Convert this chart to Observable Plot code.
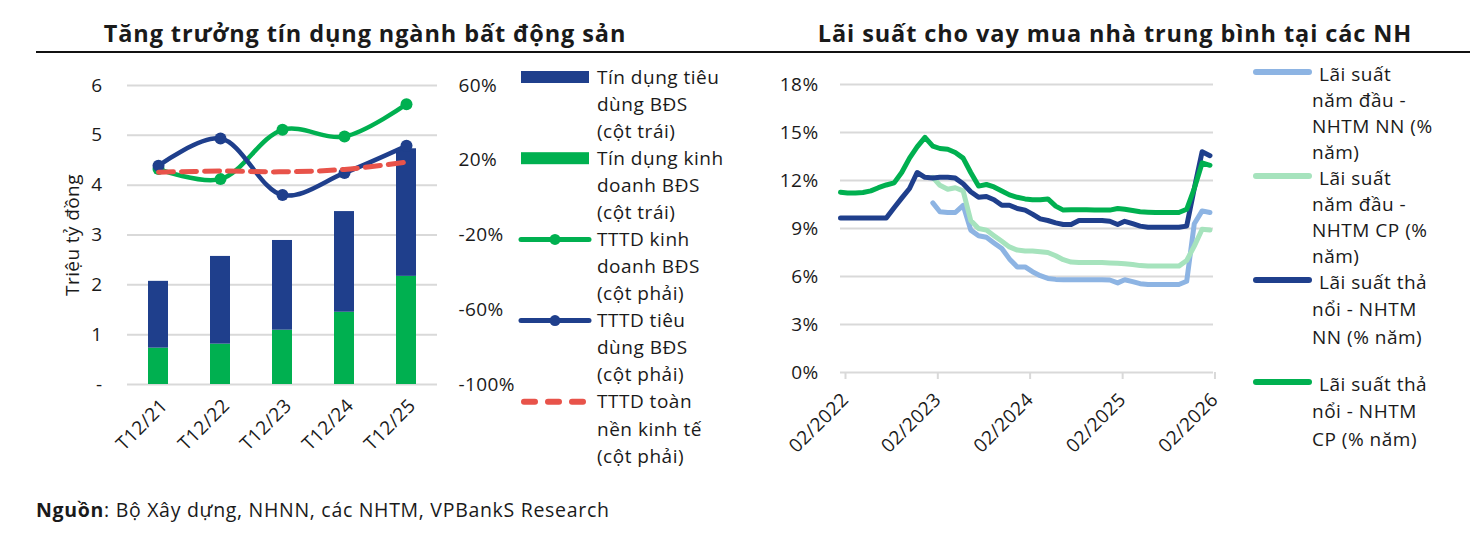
<!DOCTYPE html>
<html><head><meta charset="utf-8">
<script src="https://cdn.jsdelivr.net/npm/d3@7"></script>
<script src="https://cdn.jsdelivr.net/npm/@observablehq/plot@0.6"></script>
<style>
body{margin:0;background:#fff;}
#root{position:relative;width:1470px;height:536px;overflow:hidden;background:#fff;font-family:"Open Sans",Lato,sans-serif;color:#1a1a1a;}
#root > svg, #root > figure{position:absolute;margin:0;}
</style></head><body><div id="root"></div>
<script>
// ---------- Left chart data ----------
const years = ["T12/21","T12/22","T12/23","T12/24","T12/25"];
const creditConsumer = [1.34, 1.76, 1.80, 2.02, 2.56];   // Tín dụng tiêu dùng BĐS (triệu tỷ)
const creditBusiness = [0.73, 0.81, 1.09, 1.45, 2.17];   // Tín dụng kinh doanh BĐS (triệu tỷ)
const growthBusiness = [15.3, 9.9, 36.3, 32.7, 50.0];    // TTTD kinh doanh BĐS (%)
const growthConsumer = [17.1, 31.6, 1.4, 13.2, 27.7];    // TTTD tiêu dùng BĐS (%)
const growthEconomy  = [13.6, 14.2, 13.8, 15.1, 19.0];   // TTTD toàn nền kinh tế (%)
const leftTicks = [0, 1, 2, 3, 4, 5, 6];
const rightTicks = [-100, -60, -20, 20, 60];

// ---------- Right chart data (monthly, 02/2022 – 02/2026) ----------
const rateStart = [2022, 2]; // year, month of first value
const floatCP = [11.27,11.22,11.22,11.25,11.35,11.55,11.72,11.85,12.5,13.4,14.1,14.7,14.15,14.0,13.95,13.75,13.4,12.5,11.65,11.75,11.6,11.35,11.1,10.95,10.85,10.8,10.8,10.85,10.4,10.15,10.17,10.17,10.17,10.15,10.15,10.15,10.25,10.2,10.12,10.05,10.02,10.0,10.0,10.0,10.0,10.2,11.5,13.1,12.95];
const floatNN = [9.65,9.65,9.65,9.65,9.65,9.65,9.65,10.3,10.9,11.5,12.5,12.2,12.15,12.2,12.2,12.15,11.8,11.3,10.95,11.0,10.8,10.45,10.45,10.25,10.15,9.9,9.6,9.5,9.35,9.25,9.25,9.5,9.5,9.5,9.5,9.45,9.25,9.45,9.3,9.15,9.08,9.08,9.08,9.08,9.08,9.15,11.5,13.8,13.55];
const firstNN = [null,null,null,null,null,null,null,null,null,null,null,null,10.6,10.05,10.0,10.0,10.45,8.9,8.55,8.45,8.1,7.75,7.1,6.6,6.6,6.3,6.05,5.88,5.82,5.8,5.8,5.8,5.8,5.8,5.8,5.78,5.6,5.8,5.68,5.55,5.5,5.5,5.5,5.5,5.5,5.7,9.3,10.1,10.0];
const firstCP = [null,null,null,null,null,null,null,null,null,null,null,null,12.2,11.7,11.45,11.55,11.35,9.5,9.0,8.9,8.55,8.2,7.85,7.65,7.6,7.6,7.55,7.5,7.3,7.05,6.9,6.88,6.88,6.88,6.88,6.85,6.83,6.8,6.75,6.68,6.65,6.65,6.65,6.65,6.65,7.0,7.9,8.95,8.9];
const rateTicks = [0, 3, 6, 9, 12, 15, 18];
const yearTicks = ["2022-02","2023-02","2024-02","2025-02","2026-02"];

// ---------- Text ----------
const title1 = "Tăng trưởng tín dụng ngành bất động sản";
const title2 = "Lãi suất cho vay mua nhà trung bình tại các NH";
const leftLegend = [
  {kind:"bar", color:"#1f3f8c", lines:["Tín dụng tiêu","dùng BĐS","(cột trái)"]},
  {kind:"bar", color:"#00b050", lines:["Tín dụng kinh","doanh BĐS","(cột trái)"]},
  {kind:"dotline", color:"#00b050", lines:["TTTD kinh","doanh BĐS","(cột phải)"]},
  {kind:"dotline", color:"#1f3f8c", lines:["TTTD tiêu","dùng BĐS","(cột phải)"]},
  {kind:"dash", color:"#e8534a", lines:["TTTD toàn","nền kinh tế","(cột phải)"]}
];
const rightLegend = [
  {color:"#8db4e3", lines:["Lãi suất","năm đầu -","NHTM NN (%","năm)"]},
  {color:"#a6e3bd", lines:["Lãi suất","năm đầu -","NHTM CP (%","năm)"]},
  {color:"#1f3f8c", lines:["Lãi suất thả","nổi - NHTM","NN (% năm)"]},
  {color:"#00b050", lines:["Lãi suất thả","nổi - NHTM","CP (% năm)"]}
];
const sourceBold = "Nguồn";
const sourceText = ": Bộ Xây dựng, NHNN, các NHTM, VPBankS Research";

const C = {blue:"#1f3f8c", green:"#00b050", red:"#e8534a", lblue:"#8db4e3", lgreen:"#a6e3bd", grid:"#d9d9d9", text:"#1a1a1a"};
const FONT = "'Open Sans', Lato, sans-serif";
const root = document.getElementById("root");

// ---------- Left chart ----------
const toLeft = p => (p + 100) / 160 * 6;
const barData = years.flatMap((y, i) => [
  {year: y, series: "kd", v: creditBusiness[i]},
  {year: y, series: "td", v: creditConsumer[i]}
]);
const lineRows = arr => years.map((y, i) => ({year: y, v: toLeft(arr[i])}));

const left = Plot.plot({
  width: 530, height: 480,
  marginLeft: 127, marginRight: 93, marginTop: 85, marginBottom: 96,
  style: {fontFamily: FONT, fontSize: "19px", letterSpacing: "0.4px", color: C.text, background: "transparent", overflow: "visible"},
  x: {type: "band", domain: years, paddingInner: 0.68, paddingOuter: 0.34},
  y: {domain: [0, 6]},
  color: {domain: ["kd", "td"], range: [C.green, C.blue]},
  marks: [
    Plot.gridY(leftTicks, {stroke: C.grid, strokeWidth: 2, strokeOpacity: 1}),
    Plot.barY(barData, {x: "year", y: "v", fill: "series"}),
    Plot.line(lineRows(growthBusiness), {x: "year", y: "v", stroke: C.green, strokeWidth: 4.5, curve: "catmull-rom"}),
    Plot.dot(lineRows(growthBusiness), {x: "year", y: "v", fill: C.green, r: 6}),
    Plot.line(lineRows(growthConsumer), {x: "year", y: "v", stroke: C.blue, strokeWidth: 4.5, curve: "catmull-rom"}),
    Plot.dot(lineRows(growthConsumer), {x: "year", y: "v", fill: C.blue, r: 6}),
    Plot.line(lineRows(growthEconomy), {x: "year", y: "v", stroke: C.red, strokeWidth: 5, strokeDasharray: "15,8", curve: "catmull-rom"}),
    Plot.axisY(leftTicks, {anchor: "left", tickSize: 0, tickPadding: 25, tickFormat: d => d === 0 ? "-" : d,
      label: "Triệu tỷ đồng", labelAnchor: "center", labelOffset: 62, labelArrow: "none"}),
    Plot.axisY(rightTicks.map(toLeft), {anchor: "right", tickSize: 0, tickPadding: 21,
      tickFormat: v => Math.round(v / 6 * 160 - 100) + "%", label: null}),
    Plot.axisX({tickSize: 0, tickPadding: 18, tickRotate: -45, dx: 6, label: null})
  ]
});
left.style.left = "0px"; left.style.top = "0px";
root.appendChild(left);

// ---------- Right chart ----------
const monthDate = i => new Date(Date.UTC(rateStart[0], rateStart[1] - 1 + i, 1));
const rateRows = arr => arr.map((v, i) => ({date: monthDate(i), v})).filter(d => d.v != null);
const parseYM = s => new Date(Date.UTC(+s.slice(0, 4), +s.slice(5) - 1, 1));

const right = Plot.plot({
  width: 500, height: 480,
  marginLeft: 100, marginRight: 27, marginTop: 84, marginBottom: 108,
  style: {fontFamily: FONT, fontSize: "19px", letterSpacing: "0.4px", color: C.text, background: "transparent", overflow: "visible"},
  x: {type: "utc", domain: [parseYM("2022-02"), new Date(Date.UTC(2026, 1, 15))]},
  y: {domain: [0, 18]},
  marks: [
    Plot.gridY(rateTicks, {stroke: C.grid, strokeWidth: 2, strokeOpacity: 1}),
    Plot.line(rateRows(firstNN), {x: "date", y: "v", stroke: C.lblue, strokeWidth: 5, strokeLinejoin: "round", strokeLinecap: "round"}),
    Plot.line(rateRows(firstCP), {x: "date", y: "v", stroke: C.lgreen, strokeWidth: 5, strokeLinejoin: "round", strokeLinecap: "round"}),
    Plot.line(rateRows(floatNN), {x: "date", y: "v", stroke: C.blue, strokeWidth: 5, strokeLinejoin: "round", strokeLinecap: "round"}),
    Plot.line(rateRows(floatCP), {x: "date", y: "v", stroke: C.green, strokeWidth: 5, strokeLinejoin: "round", strokeLinecap: "round"}),
    Plot.axisY(rateTicks, {anchor: "left", tickSize: 0, tickPadding: 22, tickFormat: d => d + "%", label: null}),
    Plot.axisX(yearTicks.map(parseYM), {tickSize: 7, stroke: C.grid, strokeWidth: 2, strokeOpacity: 1, tickPadding: 17,
      tickRotate: -45, dx: 5, tickFormat: d3.utcFormat("%m/%Y"), label: null})
  ]
});
right.style.left = "740px"; right.style.top = "0px";
root.appendChild(right);

// ---------- Overlay: titles, rule, legends, source ----------
const svg = d3.select(root).append("svg")
  .attr("width", 1470).attr("height", 536)
  .style("left", "0px").style("top", "0px")
  .style("font-family", FONT).style("fill", C.text);

svg.append("text").attr("x", 365).attr("y", 42).attr("text-anchor", "middle")
  .style("font-size", "23.5px").style("font-weight", 700).style("letter-spacing", "0.9px").text(title1);
svg.append("text").attr("x", 1115).attr("y", 42).attr("text-anchor", "middle")
  .style("font-size", "23.5px").style("font-weight", 700).style("letter-spacing", "0.9px").text(title2);
svg.append("line").attr("x1", 36).attr("x2", 1470).attr("y1", 52).attr("y2", 52)
  .attr("stroke", "#111").attr("stroke-width", 2.2);

// left legend
const LL = {x0: 521, x1: 589, tx: 597, y0: 77, step: 81.2, lh: 27.1};
leftLegend.forEach((e, i) => {
  const y = LL.y0 + i * LL.step;
  const g = svg.append("g");
  if (e.kind === "bar") {
    g.append("rect").attr("x", LL.x0).attr("y", y - 6).attr("width", LL.x1 - LL.x0).attr("height", 12).attr("fill", e.color);
  } else if (e.kind === "dotline") {
    g.append("line").attr("x1", LL.x0).attr("x2", LL.x1).attr("y1", y).attr("y2", y)
      .attr("stroke", e.color).attr("stroke-width", 5).attr("stroke-linecap", "round");
    g.append("circle").attr("cx", (LL.x0 + LL.x1) / 2).attr("cy", y).attr("r", 5.5).attr("fill", e.color);
  } else {
    g.append("line").attr("x1", LL.x0 + 3).attr("x2", LL.x1).attr("y1", y).attr("y2", y)
      .attr("stroke", e.color).attr("stroke-width", 6).attr("stroke-linecap", "round").attr("stroke-dasharray", "11,13");
  }
  e.lines.forEach((t, j) => {
    g.append("text").attr("x", LL.tx).attr("y", y + j * LL.lh).attr("dy", "0.35em")
      .style("font-size", "19px").style("letter-spacing", "0.5px").text(t);
  });
});

// right legend
const RL = {x0: 1256, x1: 1309, tx1: 1319, tx: 1312, ys: [72, 176, 280, 382], lh: 26};
rightLegend.forEach((e, i) => {
  const y = RL.ys[i];
  const g = svg.append("g");
  g.append("line").attr("x1", RL.x0).attr("x2", RL.x1).attr("y1", y).attr("y2", y)
    .attr("stroke", e.color).attr("stroke-width", 6).attr("stroke-linecap", "round");
  const lh = e.lines.length === 4 ? RL.lh : 27.5;
  e.lines.forEach((t, j) => {
    g.append("text").attr("x", j === 0 ? RL.tx1 : RL.tx).attr("y", y + 2 + j * lh).attr("dy", "0.35em")
      .style("font-size", "19px").style("letter-spacing", "0.5px").text(t);
  });
});

// source
const src = svg.append("text").attr("x", 36).attr("y", 517).style("font-size", "19.5px").style("letter-spacing", "0.7px");
src.append("tspan").style("font-weight", 700).text(sourceBold);
src.append("tspan").text(sourceText);
</script>
</body></html>
